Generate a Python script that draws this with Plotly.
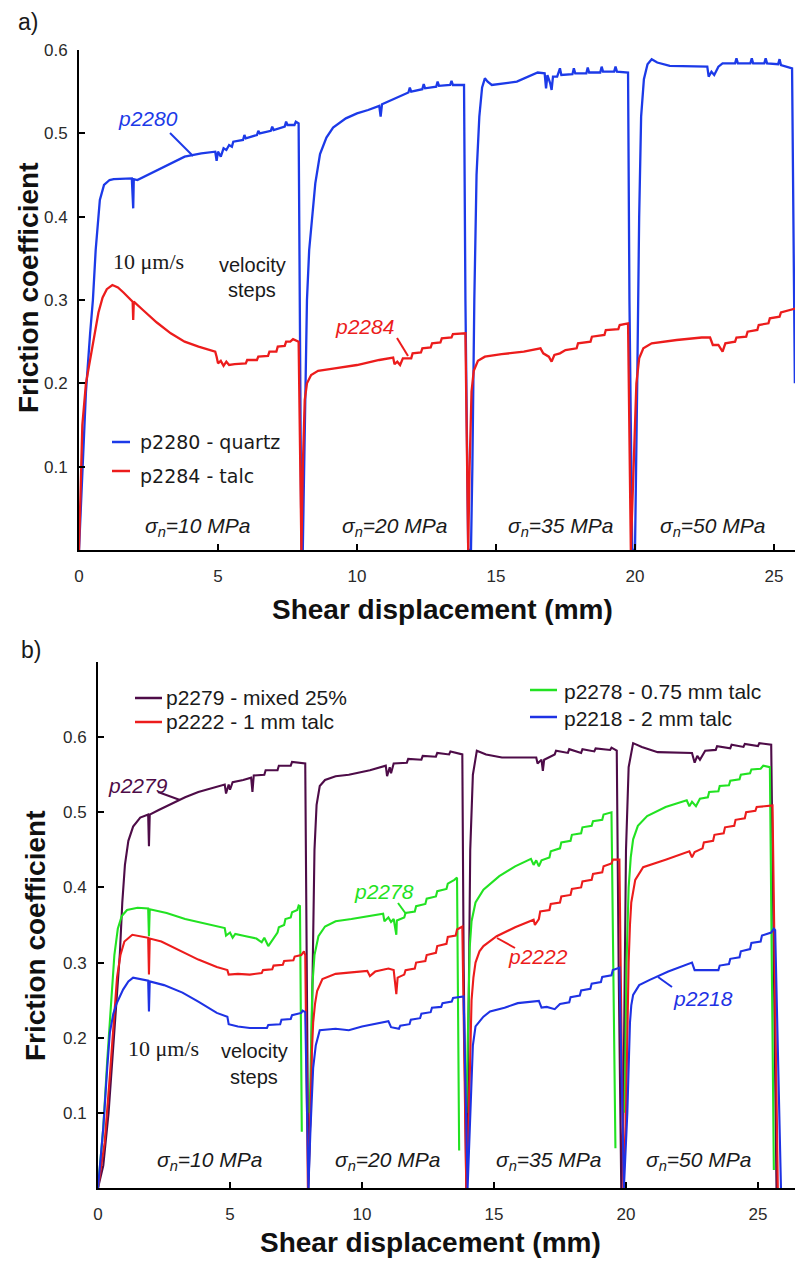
import plotly.graph_objects as go

W, H = 795, 1263

# ---------------- data ----------------
# panel a) friction coefficient vs shear displacement (mm)
a_p2280 = [
    (0.0, 0.0), (0.1, 0.08), (0.25, 0.19), (0.4, 0.26), (0.5, 0.3), (0.6, 0.36), (0.75, 0.42), (0.9, 0.438),
    (1.1, 0.444), (1.25, 0.445),
    (1.9, 0.446), (1.95, 0.41), (1.97, 0.445), (2.1, 0.444), (2.6, 0.452), (3.2, 0.462), (3.8, 0.472),
    (4.4, 0.476), (4.9, 0.478), (4.95, 0.467), (5.0, 0.478), (5.1, 0.472), (5.2, 0.482), (5.3, 0.48),
    (5.4, 0.486), (5.5, 0.484), (5.55, 0.49), (5.9, 0.492), (5.95, 0.498), (6.0, 0.494), (6.4, 0.498),
    (6.45, 0.503), (6.5, 0.5), (6.9, 0.503), (6.95, 0.508), (7.0, 0.504), (7.4, 0.508), (7.45, 0.514),
    (7.5, 0.51), (7.75, 0.51), (7.8, 0.514), (7.9, 0.512), (7.95, 0.3), (8.0, 0.0),
    (8.05, 0.0), (8.1, 0.1), (8.15, 0.2), (8.2, 0.3), (8.28, 0.36), (8.38, 0.4), (8.5, 0.44), (8.67, 0.475),
    (8.9, 0.495), (9.14, 0.507), (9.6, 0.518), (10.0, 0.524), (10.4, 0.528), (10.8, 0.533), (10.85, 0.52),
    (10.9, 0.535), (11.5, 0.544), (11.85, 0.549), (11.9, 0.555),
    (11.95, 0.55), (12.35, 0.553), (12.4, 0.559), (12.45, 0.554), (12.85, 0.556), (12.9, 0.562), (12.95, 0.557),
    (13.35, 0.558), (13.4, 0.563), (13.45, 0.558), (13.85, 0.558), (13.9, 0.3), (14.0, 0.0),
    (14.1, 0.0), (14.15, 0.1), (14.22, 0.3), (14.3, 0.45), (14.4, 0.52), (14.5, 0.555), (14.6, 0.566),
    (14.7, 0.562), (14.85, 0.558), (15.75, 0.562),
    (16.5, 0.573), (16.75, 0.572), (16.8, 0.554), (16.85, 0.57), (16.95, 0.56), (17.0, 0.552), (17.05, 0.568),
    (17.2, 0.568), (17.3, 0.578), (17.35, 0.57), (17.75, 0.571), (17.8, 0.578), (17.85, 0.572), (18.25, 0.572),
    (18.3, 0.579), (18.35, 0.573), (18.75, 0.573), (18.8, 0.58), (18.85, 0.574), (19.25, 0.574), (19.3, 0.58),
    (19.35, 0.574), (19.75, 0.573), (19.8, 0.3), (19.9, 0.0),
    (20.0, 0.0), (20.08, 0.2), (20.15, 0.4), (20.22, 0.52), (20.32, 0.565), (20.45, 0.583), (20.6, 0.589),
    (20.8, 0.585), (21.25, 0.581),
    (22.6, 0.58), (22.65, 0.568), (22.75, 0.574), (22.85, 0.57), (23.0, 0.58), (23.15, 0.584), (23.6, 0.584),
    (23.65, 0.59), (23.7, 0.584), (24.15, 0.584), (24.2, 0.59), (24.25, 0.584), (24.65, 0.584), (24.7, 0.59),
    (24.75, 0.584), (25.15, 0.583), (25.2, 0.589), (25.25, 0.582), (25.65, 0.578), (25.75, 0.2),
]
a_p2284 = [
    (0.0, 0.0), (0.05, 0.08), (0.12, 0.15), (0.25, 0.2), (0.4, 0.23), (0.55, 0.26), (0.7, 0.285),
    (0.85, 0.303), (1.0, 0.313), (1.2, 0.318), (1.4, 0.315), (1.6, 0.309), (1.8, 0.302),
    (1.93, 0.298), (1.95, 0.276), (1.97, 0.298),
    (2.3, 0.288), (2.8, 0.273), (3.3, 0.26), (3.8, 0.25), (4.3, 0.244), (4.9, 0.238), (4.95, 0.232),
    (5.0, 0.224), (5.1, 0.227), (5.2, 0.221), (5.3, 0.226), (5.4, 0.222), (5.6, 0.223), (6.0, 0.224),
    (6.05, 0.228), (6.4, 0.228), (6.45, 0.232), (6.8, 0.233), (6.85, 0.238), (7.1, 0.238), (7.15, 0.244),
    (7.4, 0.245), (7.45, 0.25), (7.6, 0.25), (7.7, 0.253), (7.9, 0.25), (8.0, 0.0),
    (8.05, 0.1), (8.12, 0.18), (8.2, 0.2), (8.35, 0.21), (8.6, 0.215), (9.2, 0.218), (10.0, 0.222),
    (10.8, 0.228),
    (11.3, 0.231), (11.35, 0.223), (11.45, 0.226), (11.55, 0.222), (11.65, 0.23), (11.95, 0.23), (12.0, 0.236),
    (12.3, 0.237), (12.35, 0.242), (12.65, 0.243), (12.7, 0.248), (13.0, 0.249), (13.05, 0.254), (13.4, 0.255),
    (13.45, 0.259), (13.9, 0.26), (14.0, 0.0),
    (14.05, 0.1), (14.12, 0.19), (14.2, 0.215), (14.35, 0.227), (14.6, 0.232), (15.2, 0.235), (16.0, 0.238),
    (16.6, 0.242),
    (16.7, 0.236), (16.9, 0.232), (17.0, 0.226), (17.1, 0.234), (17.3, 0.236), (17.5, 0.24), (17.9, 0.242),
    (17.95, 0.248), (18.4, 0.25), (18.45, 0.256), (18.9, 0.258), (18.95, 0.264), (19.4, 0.265), (19.45, 0.27),
    (19.75, 0.272), (19.85, 0.0),
    (19.95, 0.1), (20.05, 0.2), (20.15, 0.23), (20.3, 0.242), (20.6, 0.248), (21.5, 0.252), (22.4, 0.255),
    (22.7, 0.255),
    (22.8, 0.246), (23.0, 0.246), (23.15, 0.238), (23.25, 0.248), (23.6, 0.25), (23.65, 0.255), (24.0, 0.256),
    (24.05, 0.262), (24.4, 0.264), (24.45, 0.27), (24.8, 0.272), (24.85, 0.278), (25.2, 0.28), (25.25, 0.285),
    (25.8, 0.29),
]

# panel b)
b_p2279 = [
    (0.0, 0.0), (0.2, 0.03), (0.4, 0.1), (0.6, 0.2), (0.75, 0.28), (0.83, 0.313), (0.92, 0.38), (1.02, 0.43),
    (1.15, 0.462), (1.33, 0.481), (1.6, 0.493),
    (1.9, 0.497), (1.93, 0.455), (1.96, 0.497), (2.3, 0.503), (2.8, 0.512), (3.3, 0.52),
    (3.8, 0.527), (4.3, 0.532), (4.8, 0.537), (4.85, 0.525), (4.95, 0.537), (5.0, 0.53), (5.1, 0.54),
    (5.5, 0.543), (5.8, 0.546), (5.85, 0.527), (5.9, 0.549), (6.3, 0.55), (6.35, 0.556), (6.8, 0.556),
    (6.85, 0.562), (7.3, 0.562), (7.35, 0.567), (7.85, 0.565), (7.9, 0.3), (7.97, 0.0),
    (8.05, 0.1), (8.1, 0.22), (8.15, 0.35), (8.2, 0.45), (8.28, 0.51), (8.4, 0.535), (8.6, 0.543),
    (9.0, 0.548), (9.5, 0.55), (10.3, 0.556),
    (10.9, 0.562), (10.95, 0.548), (11.05, 0.56), (11.1, 0.552), (11.2, 0.565), (11.7, 0.566), (11.75, 0.571),
    (12.25, 0.57), (12.3, 0.575), (12.8, 0.574), (12.85, 0.579), (13.3, 0.577), (13.35, 0.581), (13.8, 0.577),
    (13.85, 0.3), (13.95, 0.0),
    (14.0, 0.1), (14.05, 0.3), (14.1, 0.45), (14.2, 0.55), (14.35, 0.582), (14.7, 0.577), (15.3, 0.573),
    (16.6, 0.573),
    (16.65, 0.565), (16.8, 0.57), (16.85, 0.555), (16.9, 0.57), (17.3, 0.577), (17.35, 0.582), (17.8, 0.579),
    (17.85, 0.584), (18.3, 0.579), (18.35, 0.584), (18.8, 0.581), (18.85, 0.585), (19.4, 0.583), (19.45, 0.586),
    (19.65, 0.582), (19.72, 0.3), (19.82, 0.0),
    (19.9, 0.1), (19.95, 0.3), (20.0, 0.45), (20.1, 0.56), (20.27, 0.592), (20.6, 0.587), (21.2, 0.58),
    (22.5, 0.579),
    (22.6, 0.566), (22.7, 0.575), (22.8, 0.57), (23.0, 0.582), (23.4, 0.583), (23.45, 0.588), (23.95, 0.585),
    (24.0, 0.59), (24.45, 0.587), (24.5, 0.591), (25.0, 0.588), (25.05, 0.592), (25.5, 0.59), (25.6, 0.3),
    (25.7, 0.0),
]
b_p2278 = [
    (0.0, 0.0), (0.2, 0.08), (0.35, 0.17), (0.5, 0.25), (0.62, 0.31), (0.75, 0.345), (0.9, 0.362),
    (1.1, 0.37), (1.5, 0.373), (1.9, 0.372),
    (1.93, 0.335), (1.96, 0.371), (2.6, 0.366), (3.3, 0.358), (4.0, 0.352), (4.8, 0.346), (4.85, 0.336),
    (5.0, 0.34), (5.1, 0.333), (5.2, 0.338), (5.6, 0.335), (6.0, 0.332), (6.2, 0.327), (6.3, 0.333),
    (6.45, 0.322), (6.6, 0.33), (6.8, 0.34), (6.85, 0.347), (7.05, 0.35), (7.1, 0.358), (7.3, 0.36),
    (7.35, 0.367), (7.55, 0.37), (7.6, 0.376), (7.65, 0.375), (7.72, 0.075), (None, None),
    (8.02, 0.1), (8.07, 0.2), (8.12, 0.27), (8.2, 0.31), (8.35, 0.335), (8.6, 0.348), (9.0, 0.355),
    (9.6, 0.358),
    (10.2, 0.362), (10.8, 0.365), (10.85, 0.355), (11.0, 0.36), (11.1, 0.354), (11.2, 0.358), (11.3, 0.337),
    (11.32, 0.356), (11.6, 0.36), (11.65, 0.366), (12.0, 0.368), (12.05, 0.375), (12.4, 0.378), (12.45, 0.385),
    (12.8, 0.388), (12.85, 0.395), (13.2, 0.398), (13.25, 0.405), (13.5, 0.41), (13.6, 0.413), (13.68, 0.05),
    (None, None),
    (13.95, 0.1), (14.02, 0.25), (14.08, 0.32), (14.15, 0.355), (14.3, 0.38), (14.6, 0.397), (15.2, 0.415),
    (15.8, 0.428),
    (16.4, 0.438), (16.5, 0.43), (16.6, 0.436), (16.7, 0.428), (16.8, 0.436), (17.1, 0.44), (17.15, 0.448),
    (17.5, 0.452), (17.55, 0.46), (17.9, 0.462), (17.95, 0.47), (18.3, 0.472), (18.35, 0.48), (18.7, 0.482),
    (18.75, 0.488), (19.1, 0.49), (19.15, 0.497), (19.45, 0.5), (19.6, 0.053), (None, None),
    (19.95, 0.1), (20.02, 0.3), (20.1, 0.4), (20.18, 0.44), (20.27, 0.464), (20.45, 0.482), (20.8, 0.495),
    (21.5, 0.507), (22.3, 0.516),
    (22.4, 0.508), (22.5, 0.514), (22.65, 0.508), (22.8, 0.518), (23.1, 0.52), (23.15, 0.527), (23.5, 0.528),
    (23.55, 0.535), (23.9, 0.536), (23.95, 0.542), (24.3, 0.544), (24.35, 0.55), (24.7, 0.552), (24.75, 0.557),
    (25.1, 0.558), (25.2, 0.562), (25.45, 0.56), (25.6, 0.024),
]
b_p2222 = [
    (0.0, 0.0), (0.25, 0.06), (0.45, 0.15), (0.6, 0.23), (0.72, 0.28), (0.85, 0.31), (1.0, 0.328),
    (1.3, 0.337), (1.7, 0.335),
    (1.9, 0.333), (1.93, 0.284), (1.96, 0.332), (2.4, 0.328), (3.0, 0.318), (3.8, 0.304), (4.5, 0.294),
    (4.9, 0.29), (4.95, 0.284), (5.3, 0.285), (5.75, 0.284), (6.2, 0.286), (6.25, 0.29), (6.6, 0.291),
    (6.65, 0.296), (7.0, 0.297), (7.05, 0.302), (7.4, 0.303), (7.45, 0.308), (7.7, 0.31), (7.8, 0.315),
    (7.85, 0.31), (7.95, 0.0),
    (8.05, 0.1), (8.1, 0.18), (8.15, 0.22), (8.22, 0.245), (8.3, 0.262), (8.5, 0.278), (9.0, 0.285),
    (9.6, 0.287), (10.2, 0.289),
    (10.3, 0.282), (10.5, 0.288), (11.0, 0.292), (11.2, 0.29), (11.3, 0.258), (11.35, 0.28), (11.6, 0.284),
    (11.65, 0.29), (12.0, 0.292), (12.05, 0.3), (12.4, 0.302), (12.45, 0.31), (12.8, 0.313), (12.85, 0.322),
    (13.2, 0.325), (13.25, 0.334), (13.55, 0.336), (13.6, 0.344), (13.8, 0.348), (13.95, 0.0),
    (14.05, 0.1), (14.1, 0.18), (14.15, 0.25), (14.22, 0.28), (14.3, 0.3), (14.45, 0.315), (14.6, 0.322),
    (15.1, 0.335), (15.8, 0.347), (16.5, 0.357),
    (16.55, 0.35), (16.7, 0.358), (16.75, 0.368), (17.1, 0.37), (17.15, 0.378), (17.5, 0.38), (17.55, 0.388),
    (17.9, 0.39), (17.95, 0.398), (18.3, 0.4), (18.35, 0.408), (18.7, 0.41), (18.75, 0.418), (19.1, 0.42),
    (19.15, 0.428), (19.45, 0.432), (19.5, 0.437), (19.75, 0.437), (19.9, 0.0),
    (20.0, 0.1), (20.05, 0.22), (20.1, 0.3), (20.15, 0.35), (20.2, 0.38), (20.35, 0.41), (20.65, 0.427),
    (21.5, 0.437), (22.4, 0.448),
    (22.5, 0.44), (22.6, 0.447), (22.9, 0.452), (22.95, 0.46), (23.3, 0.462), (23.35, 0.47), (23.7, 0.472),
    (23.75, 0.48), (24.1, 0.482), (24.15, 0.49), (24.5, 0.492), (24.55, 0.5), (24.9, 0.502), (24.95, 0.507),
    (25.55, 0.509), (25.75, 0.0),
]
b_p2218 = [
    (0.0, 0.0), (0.2, 0.08), (0.35, 0.16), (0.45, 0.207), (0.58, 0.232), (0.7, 0.245), (0.95, 0.264),
    (1.15, 0.275), (1.33, 0.28), (1.7, 0.278),
    (1.9, 0.276), (1.93, 0.235), (1.96, 0.275), (2.5, 0.27), (3.2, 0.26), (3.8, 0.248), (4.5, 0.233),
    (4.9, 0.228), (4.95, 0.218), (5.3, 0.215), (5.75, 0.213), (6.4, 0.213), (6.45, 0.217), (6.9, 0.218),
    (6.95, 0.224), (7.3, 0.225), (7.35, 0.23), (7.7, 0.233), (7.75, 0.236), (7.85, 0.234), (7.97, 0.0),
    (8.05, 0.08), (8.1, 0.13), (8.15, 0.16), (8.25, 0.19), (8.4, 0.21), (9.0, 0.212), (9.5, 0.21),
    (10.0, 0.215),
    (10.8, 0.221), (11.0, 0.222), (11.1, 0.214), (11.4, 0.212), (11.45, 0.216), (11.8, 0.218), (11.85, 0.224),
    (12.2, 0.226), (12.25, 0.232), (12.6, 0.234), (12.65, 0.24), (13.0, 0.241), (13.05, 0.246), (13.4, 0.248),
    (13.45, 0.253), (13.85, 0.255), (14.0, 0.0),
    (14.1, 0.1), (14.15, 0.16), (14.2, 0.19), (14.3, 0.215), (14.6, 0.228), (14.85, 0.235), (15.4, 0.24),
    (15.9, 0.246),
    (16.7, 0.249), (16.8, 0.24), (17.0, 0.241), (17.3, 0.238), (17.5, 0.245), (17.85, 0.247), (17.9, 0.254),
    (18.25, 0.256), (18.3, 0.263), (18.65, 0.265), (18.7, 0.272), (19.05, 0.274), (19.1, 0.281), (19.45, 0.283),
    (19.5, 0.29), (19.75, 0.293), (19.92, 0.0),
    (20.05, 0.1), (20.1, 0.17), (20.15, 0.22), (20.2, 0.243), (20.27, 0.257), (20.5, 0.27), (20.9, 0.277),
    (21.6, 0.288), (22.5, 0.3),
    (22.6, 0.29), (23.5, 0.29), (23.55, 0.296), (23.9, 0.298), (23.95, 0.305), (24.3, 0.307), (24.35, 0.315),
    (24.7, 0.318), (24.75, 0.326), (25.1, 0.328), (25.15, 0.336), (25.5, 0.34), (25.6, 0.345), (25.65, 0.343),
    (25.87, 0.0),
]

x_ticks = [0, 5, 10, 15, 20, 25]
y_ticks = [0.1, 0.2, 0.3, 0.4, 0.5, 0.6]
y_labels = ["0.1", "0.2", "0.3", "0.4", "0.5", "0.6"]
stress_labels = ["10", "20", "35", "50"]

# ---------------- styling ----------------
C_BLUE_A = "rgb(28,58,232)"
C_RED = "rgb(236,28,28)"
C_PURPLE = "rgb(78,12,72)"
C_GREEN = "rgb(34,226,34)"
C_BLUE_B = "rgb(30,50,228)"
SANS = "Liberation Sans, Arial, sans-serif"
SERIF = "Liberation Serif, Times New Roman, serif"
INK = "#1a1a1a"


def px(x):
    return x / W


def py(y):
    return 1 - y / H


def xs(pts):
    return [p[0] for p in pts]


def ys(pts):
    return [p[1] for p in pts]


fig = go.Figure()

# panel a
fig.add_trace(go.Scatter(x=xs(a_p2280), y=ys(a_p2280), mode="lines", name="p2280 - quartz",
                         line=dict(color=C_BLUE_A, width=2.3), xaxis="x", yaxis="y", showlegend=False))
fig.add_trace(go.Scatter(x=xs(a_p2284), y=ys(a_p2284), mode="lines", name="p2284 - talc",
                         line=dict(color=C_RED, width=2.3), xaxis="x", yaxis="y", showlegend=False))
# panel b
for pts, nm, col in [(b_p2279, "p2279 - mixed 25%", C_PURPLE), (b_p2278, "p2278 - 0.75 mm talc", C_GREEN),
                     (b_p2222, "p2222 - 1 mm talc", C_RED), (b_p2218, "p2218 - 2 mm talc", C_BLUE_B)]:
    fig.add_trace(go.Scatter(x=xs(pts), y=ys(pts), mode="lines", name=nm, connectgaps=False,
                             line=dict(color=col, width=2.1), xaxis="x2", yaxis="y2", showlegend=False))

axis_common = dict(showline=True, linecolor="black", linewidth=2, ticks="inside", ticklen=6, tickwidth=2,
                   tickcolor="black", showgrid=False, zeroline=False, automargin=False,
                   tickfont=dict(family=SANS, size=17, color="#2a2a2a"))

fig.update_layout(
    width=W, height=H, autosize=False, margin=dict(l=0, r=0, t=0, b=0, pad=0, autoexpand=False),
    paper_bgcolor="white", plot_bgcolor="white", showlegend=False,
    xaxis=dict(domain=[px(79), 1.0], range=[0, (W - 79) / 27.8], tickvals=x_ticks, anchor="y",
               ticklabelstandoff=10, **axis_common),
    yaxis=dict(domain=[py(550), py(50)], range=[0, 0.6], tickvals=y_ticks, ticktext=y_labels, anchor="x",
               ticklabelstandoff=6, **axis_common),
    xaxis2=dict(domain=[px(98), 1.0], range=[0, (W - 98) / 26.4], tickvals=x_ticks, anchor="y2",
                ticklabelstandoff=10, **axis_common),
    yaxis2=dict(domain=[py(1188), py(662)], range=[0, 0.7], tickvals=y_ticks, ticktext=y_labels, anchor="x2",
                ticklabelstandoff=6, **axis_common),
)

ann = []


def text(x, y, s, size=20, color=INK, family=SANS, bold=False, italic=False, xanchor="center", angle=0):
    if italic:
        s = "<i>" + s + "</i>"
    if bold:
        s = "<b>" + s + "</b>"
    ann.append(dict(x=px(x), y=py(y), xref="paper", yref="paper", text=s, showarrow=False,
                    xanchor=xanchor, yanchor="middle", textangle=angle,
                    font=dict(size=size, color=color, family=family)))


shapes = []


def seg(x0, y0, x1, y1, color, width=2):
    shapes.append(dict(type="line", xref="paper", yref="paper", x0=px(x0), y0=py(y0), x1=px(x1), y1=py(y1),
                       line=dict(color=color, width=width)))


# panel labels
text(28, 22, "a)", size=23)
text(31, 650, "b)", size=23)

# axis titles
text(442, 609, "Shear displacement (mm)", size=28, color="#111", bold=True)
text(430, 1242, "Shear displacement (mm)", size=28, color="#111", bold=True)
text(28, 288, "Friction coefficient", size=28, color="#111", bold=True, angle=-90)
text(35, 936, "Friction coefficient", size=28, color="#111", bold=True, angle=-90)

# panel a annotations
text(148, 119, "p2280", size=21, color=C_BLUE_A, italic=True)
seg(170, 133, 193, 156, C_BLUE_A)
text(148, 261, "10 \u03bcm/s", size=22, family=SERIF)
text(252, 265, "velocity", size=20)
text(252, 290, "steps", size=20)
text(364, 327, "p2284", size=21, color=C_RED, italic=True)
seg(397, 338, 408, 356, C_RED)
seg(112, 442, 130, 442, C_BLUE_A, 2.5)
seg(112, 471, 130, 471, C_RED, 2.5)
text(138, 442, "p2280 - quartz", size=19, family="DejaVu Sans", xanchor="left")
text(138, 476, "p2284 - talc", size=19, family="DejaVu Sans", xanchor="left")
for cx, lab in zip([197, 394, 560, 712], stress_labels):
    text(cx, 527, "\u03c3<sub>n</sub>=" + lab + " MPa", size=21, italic=True)

# panel b annotations
seg(135, 698, 162, 698, C_PURPLE, 2.5)
seg(135, 722, 162, 722, C_RED, 2.5)
text(164, 697, "p2279 - mixed 25%", size=21, xanchor="left")
text(164, 721, "p2222 - 1 mm talc", size=21, xanchor="left")
seg(530, 690, 557, 690, C_GREEN, 2.5)
seg(530, 717, 557, 717, C_BLUE_B, 2.5)
text(562, 691, "p2278 - 0.75 mm talc", size=21, xanchor="left")
text(562, 718, "p2218 - 2 mm talc", size=21, xanchor="left")
text(138, 785, "p2279", size=21, color=C_PURPLE, italic=True)
seg(158, 792, 180, 800, C_PURPLE)
text(384, 892, "p2278", size=21, color=C_GREEN, italic=True)
seg(398, 903, 406, 914, C_GREEN)
text(538, 956, "p2222", size=21, color=C_RED, italic=True)
seg(497, 938, 515, 948, C_RED)
text(703, 998, "p2218", size=21, color=C_BLUE_B, italic=True)
seg(658, 977, 672, 987, C_BLUE_B)
text(163, 1048, "10 \u03bcm/s", size=22, family=SERIF)
text(254, 1051, "velocity", size=20)
text(254, 1077, "steps", size=20)
for cx, lab in zip([209, 387, 548, 698], stress_labels):
    text(cx, 1161, "\u03c3<sub>n</sub>=" + lab + " MPa", size=21, italic=True)

fig.update_layout(annotations=ann, shapes=shapes)
fig.write_html("out.html", config={"displayModeBar": False},
               post_script="document.body.style.margin='0';document.body.style.padding='0';"
                           "document.body.style.overflow='hidden';")
